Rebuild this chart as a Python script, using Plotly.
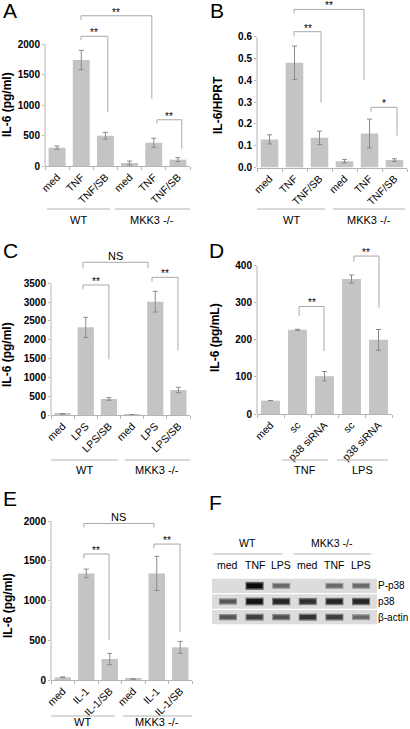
import plotly.graph_objects as go

W, H = 410, 729
FONT = "Liberation Sans, Arial, Helvetica, sans-serif"

# ---------------- data ----------------
# Panel A
a_cats = ["med", "TNF", "TNF/SB", "med", "TNF", "TNF/SB"]
a_vals = [300, 1738, 496, 49, 381, 104]
a_errs = [27, 158, 55, 33, 74, 33]
a_ticks = [0, 500, 1000, 1500, 2000]
a_groups = ["WT", "MKK3 -/-"]
a_ytitle = "IL-6 (pg/ml)"
a_sig_labels = ["**", "**", "**"]
a_sig_tops = [2463, 2126, 758]
a_sig_left_ends = [2393, 2066, 692]
a_sig_right_ends = [1101, 883, 283]

# Panel B
b_cats = ["med", "TNF", "TNF/SB", "med", "TNF", "TNF/SB"]
b_vals = [0.129, 0.480, 0.136, 0.029, 0.156, 0.034]
b_errs = [0.021, 0.077, 0.031, 0.008, 0.066, 0.006]
b_ticks = [0.0, 0.1, 0.2, 0.3, 0.4, 0.5, 0.6]
b_groups = ["WT", "MKK3 -/-"]
b_ytitle = "IL-6/HPRT"
b_sig_labels = ["**", "**", "*"]
b_sig_tops = [0.725, 0.623, 0.276]
b_sig_left_ends = [0.707, 0.603, 0.256]
b_sig_right_ends = [0.401, 0.298, 0.145]

# Panel C
c_cats = ["med", "LPS", "LPS/SB", "med", "LPS", "LPS/SB"]
c_vals = [30, 2330, 425, 9, 3012, 665]
c_errs = [8, 266, 35, 3, 275, 71]
c_ticks = [0, 500, 1000, 1500, 2000, 2500, 3000, 3500]
c_groups = ["WT", "MKK3 -/-"]
c_ytitle = "IL-6 (pg/ml)"
c_sig_labels = ["NS", "**", "**"]
c_sig_tops = [4058, 3455, 3659]
c_sig_left_ends = [3898, 3340, 3544]
c_sig_right_ends = [3898, 1480, 1710]

# Panel D
d_cats = ["med", "sc", "p38 siRNA", "sc", "p38 siRNA"]
d_vals = [36, 227, 102, 364, 200]
d_errs = [0, 1.5, 12.6, 11, 28]
d_ticks = [0, 100, 200, 300, 400]
d_groups = ["TNF", "LPS"]
d_ytitle = "IL-6 (pg/mL)"
d_sig_labels = ["**", "**"]
d_sig_tops = [290, 426]
d_sig_left_ends = [265, 411]
d_sig_right_ends = [170, 287]

# Panel E
e_cats = ["med", "IL-1", "IL-1/SB", "med", "IL-1", "IL-1/SB"]
e_vals = [34, 1341, 264, 13, 1341, 411]
e_errs = [5, 54, 71, 3, 214, 75]
e_ticks = [0, 500, 1000, 1500, 2000]
e_groups = ["WT", "MKK3 -/-"]
e_ytitle = "IL-6 (pg/ml)"
e_sig_labels = ["NS", "**", "**"]
e_sig_tops = [1969, 1584, 1710]
e_sig_left_ends = [1919, 1529, 1655]
e_sig_right_ends = [1919, 503, 599]

# Panel F (western blot band intensities, 0..1)
f_lanes = ["med", "TNF", "LPS", "med", "TNF", "LPS"]
f_groups = ["WT", "MKK3 -/-"]
f_rows = ["P-p38", "p38", "\u03b2-actin"]
f_pp38 = [0.04, 1.00, 0.50, 0.03, 0.50, 0.50]
f_p38 = [0.60, 0.95, 0.85, 0.80, 0.85, 0.85]
f_actin = [0.60, 0.72, 0.62, 0.78, 0.72, 0.50]

# ---------------- layout geometry (pixels) ----------------
panels = [
    dict(ax="", cats=a_cats, vals=a_vals, errs=a_errs, ticks=a_ticks, fmt="",
         x0=45, x1=190, y0=166, ytp=44, ytop=4,
         bx=[(0.99, 3.92), (0.99, 2.10), (4.13, 5.16)],
         labels=a_sig_labels, tops=a_sig_tops, le=a_sig_left_ends, re=a_sig_right_ends,
         groups=a_groups, spans=[(-0.42, 2.19), (2.39, 5.5)], gline=209, gtext=220,
         title=a_ytitle, tx=7, ty=105, letter="A", lx=1, ly=11),
    dict(ax="2", cats=b_cats, vals=b_vals, errs=b_errs, ticks=b_ticks, fmt=".1f",
         x0=257, x1=407, y0=167.5, ytp=36.7, ytop=4,
         bx=[(0.98, 3.78), (0.98, 2.06), (4.06, 5.1)],
         labels=b_sig_labels, tops=b_sig_tops, le=b_sig_left_ends, re=b_sig_right_ends,
         groups=b_groups, spans=[(-0.5, 2.22), (2.54, 5.42)], gline=209, gtext=220,
         title=b_ytitle, tx=218, ty=105, letter="B", lx=208, ly=11),
    dict(ax="3", cats=c_cats, vals=c_vals, errs=c_errs, ticks=c_ticks, fmt="",
         x0=51, x1=190, y0=415, ytp=283.3, ytop=247,
         bx=[(0.88, 3.69), (0.88, 2.0), (3.86, 4.98)],
         labels=c_sig_labels, tops=c_sig_tops, le=c_sig_left_ends, re=c_sig_right_ends,
         groups=c_groups, spans=[(-0.5, 2.39), (2.69, 5.5)], gline=460, gtext=470,
         title=c_ytitle, tx=7, ty=355, letter="C", lx=1, ly=250),
    dict(ax="4", cats=d_cats, vals=d_vals, errs=d_errs, ticks=d_ticks, fmt="",
         x0=257, x1=392, y0=414, ytp=265.7, ytop=247,
         bx=[(1.06, 1.98), (3.09, 4.02)],
         labels=d_sig_labels, tops=d_sig_tops, le=d_sig_left_ends, re=d_sig_right_ends,
         groups=d_groups, spans=[(0.43, 2.13), (2.46, 4.35)], gline=460, gtext=470,
         title=d_ytitle, tx=215, ty=338, letter="D", lx=207, ly=250),
    dict(ax="5", cats=e_cats, vals=e_vals, errs=e_errs, ticks=e_ticks, fmt="",
         x0=51, x1=192, y0=680, ytp=521, ytop=505,
         bx=[(0.9, 3.88), (0.9, 1.97), (3.88, 4.99)],
         labels=e_sig_labels, tops=e_sig_tops, le=e_sig_left_ends, re=e_sig_right_ends,
         groups=e_groups, spans=[(-0.5, 2.22), (2.56, 5.5)], gline=716, gtext=722,
         title=e_ytitle, tx=8, ty=606, letter="E", lx=1, ly=498),
]

BAR = "#c4c4c4"
ERR = "#8a8a8a"
AXC = "#b4b4b4"
BRK = "#a8a8a8"


def px_x(p):
    return p / W


def px_y(p):
    return 1 - p / H


fig = go.Figure()
layout = dict(width=W, height=H, margin=dict(l=0, r=0, t=0, b=0), template="none",
              paper_bgcolor="white", plot_bgcolor="white", showlegend=False,
              hovermode=False, font=dict(family=FONT, color="black"))
shapes, annots = [], []

for p in panels:
    ax = p["ax"]
    xa, ya = "x" + ax, "y" + ax
    n = len(p["cats"])
    tmax = p["ticks"][-1]
    per_px = tmax / (p["y0"] - p["ytp"])
    yr = (p["y0"] - p["ytop"]) * per_px
    xs = list(range(n))

    fig.add_trace(go.Bar(x=xs, y=p["vals"], width=0.7, marker=dict(color=BAR, line=dict(width=0)),
                         error_y=dict(type="data", array=p["errs"], color=ERR, thickness=1, width=2.5),
                         xaxis=xa, yaxis=ya))

    # significance brackets
    for (xl, xr), lab, t, le, re in zip(p["bx"], p["labels"], p["tops"], p["le"], p["re"]):
        fig.add_trace(go.Scatter(x=[xl, xl, xr, xr], y=[le, t, t, re], mode="lines",
                                 line=dict(color=BRK, width=1), xaxis=xa, yaxis=ya,
                                 hoverinfo="skip"))
        is_ns = lab == "NS"
        annots.append(dict(x=(xl + xr) / 2, y=t, xref=xa, yref=ya, text=lab, showarrow=False,
                           yanchor="bottom", yshift=-2 if is_ns else -4,
                           font=dict(size=11 if is_ns else 10, family=FONT, color="black")))

    xkey = "xaxis" + ax
    ykey = "yaxis" + ax
    layout[xkey] = dict(domain=[px_x(p["x0"]), px_x(p["x1"])], anchor=ya, range=[-0.5, n - 0.5],
                        tickmode="array", tickvals=xs, ticktext=p["cats"], tickangle=-45,
                        ticks="", showline=True, linecolor=AXC, linewidth=1, showgrid=False,
                        zeroline=False, tickfont=dict(size=10.5, family=FONT, color="black"),
                        minor=dict(tickmode="array", tickvals=[i - 0.5 for i in range(n + 1)],
                                   ticks="outside", ticklen=3, tickcolor=AXC, showgrid=False))
    layout[ykey] = dict(domain=[px_y(p["y0"]), px_y(p["ytop"])], anchor=xa, range=[0, yr],
                        tickmode="array", tickvals=p["ticks"], tickformat=p["fmt"],
                        ticks="outside", ticklen=2, tickcolor=AXC, showline=False,
                        showgrid=False, zeroline=False,
                        tickfont=dict(size=10, family="Liberation Sans, Arial", weight="bold",
                                      color="black"))
    # y axis line, from 0 to top tick
    shapes.append(dict(type="line", xref=xa + " domain", yref=ya, x0=0, x1=0, y0=0, y1=tmax,
                       line=dict(color=AXC, width=1)))
    # group lines and labels
    for g, (s0, s1) in zip(p["groups"], p["spans"]):
        shapes.append(dict(type="line", xref=xa, yref="paper", x0=s0, x1=s1,
                           y0=px_y(p["gline"]), y1=px_y(p["gline"]),
                           line=dict(color=AXC, width=1)))
        annots.append(dict(x=(s0 + s1) / 2, y=px_y(p["gtext"]), xref=xa, yref="paper", text=g,
                           showarrow=False, yanchor="middle",
                           font=dict(size=11, family=FONT, color="black")))
    # y title
    annots.append(dict(x=px_x(p["tx"]), y=px_y(p["ty"]), xref="paper", yref="paper",
                       text=p["title"], textangle=-90, showarrow=False,
                       xanchor="center", yanchor="middle",
                       font=dict(size=12, family=FONT, weight="bold", color="black")))
    # panel letter
    annots.append(dict(x=px_x(p["lx"]), y=px_y(p["ly"]), xref="paper", yref="paper",
                       text=p["letter"], showarrow=False, xanchor="left", yanchor="middle",
                       font=dict(size=21, family=FONT, color="black")))

# ---------------- Panel F: western blot ----------------
blot = [f_pp38, f_p38, f_actin]
fx0, fx1, fyt, fyb = 212, 377, 578, 625
layout["xaxis6"] = dict(domain=[px_x(fx0), px_x(fx1)], anchor="y6", range=[-0.6, 5.6], visible=False)
layout["yaxis6"] = dict(domain=[px_y(fyb), px_y(fyt)], anchor="x6", range=[2.5, -0.5], visible=False)
for r, row in enumerate(blot):
    shapes.append(dict(type="rect", xref="x6", yref="y6", x0=-0.6, x1=5.6, y0=r - 0.46, y1=r + 0.46,
                       fillcolor="#dcdcdc", line=dict(width=0), layer="below"))
    for l, inten in enumerate(row):
        if inten < 0.06:
            continue
        g1 = int(215 - 120 * inten)
        g2 = int(200 - 190 * inten)
        fig.add_trace(go.Scatter(x=[l - 0.34, l + 0.34], y=[r, r], mode="lines",
                                 line=dict(color=f"rgb({g1},{g1},{g1})", width=4 + 4 * inten),
                                 xaxis="x6", yaxis="y6", hoverinfo="skip"))
        fig.add_trace(go.Scatter(x=[l - 0.3, l + 0.3], y=[r, r], mode="lines",
                                 line=dict(color=f"rgb({g2},{g2},{g2})", width=2 + 3 * inten),
                                 xaxis="x6", yaxis="y6", hoverinfo="skip"))
    annots.append(dict(x=px_x(fx1), y=r, xref="paper", yref="y6", text=f_rows[r],
                       showarrow=False, xanchor="left", yanchor="middle", borderpad=0,
                       font=dict(size=10, family=FONT, color="black")))
for l, lab in enumerate(f_lanes):
    annots.append(dict(x=l, y=px_y(565), xref="x6", yref="paper", text=lab, showarrow=False,
                       yanchor="middle", font=dict(size=10.5, family=FONT, color="black")))
for g, (s0, s1) in zip(f_groups, [(-0.56, 2.05), (2.46, 5.38)]):
    shapes.append(dict(type="line", xref="x6", yref="paper", x0=s0, x1=s1,
                       y0=px_y(554), y1=px_y(554), line=dict(color=AXC, width=1)))
    annots.append(dict(x=(s0 + s1) / 2, y=px_y(543), xref="x6", yref="paper", text=g,
                       showarrow=False, yanchor="middle",
                       font=dict(size=10.5, family=FONT, color="black")))
annots.append(dict(x=px_x(207), y=px_y(502), xref="paper", yref="paper", text="F",
                   showarrow=False, xanchor="left", yanchor="middle",
                   font=dict(size=21, family=FONT, color="black")))

layout["shapes"] = shapes
layout["annotations"] = annots
fig.update_layout(**layout)
fig.write_html("out.html", config={"displayModeBar": False},
               post_script="document.body.style.margin='0px';")
